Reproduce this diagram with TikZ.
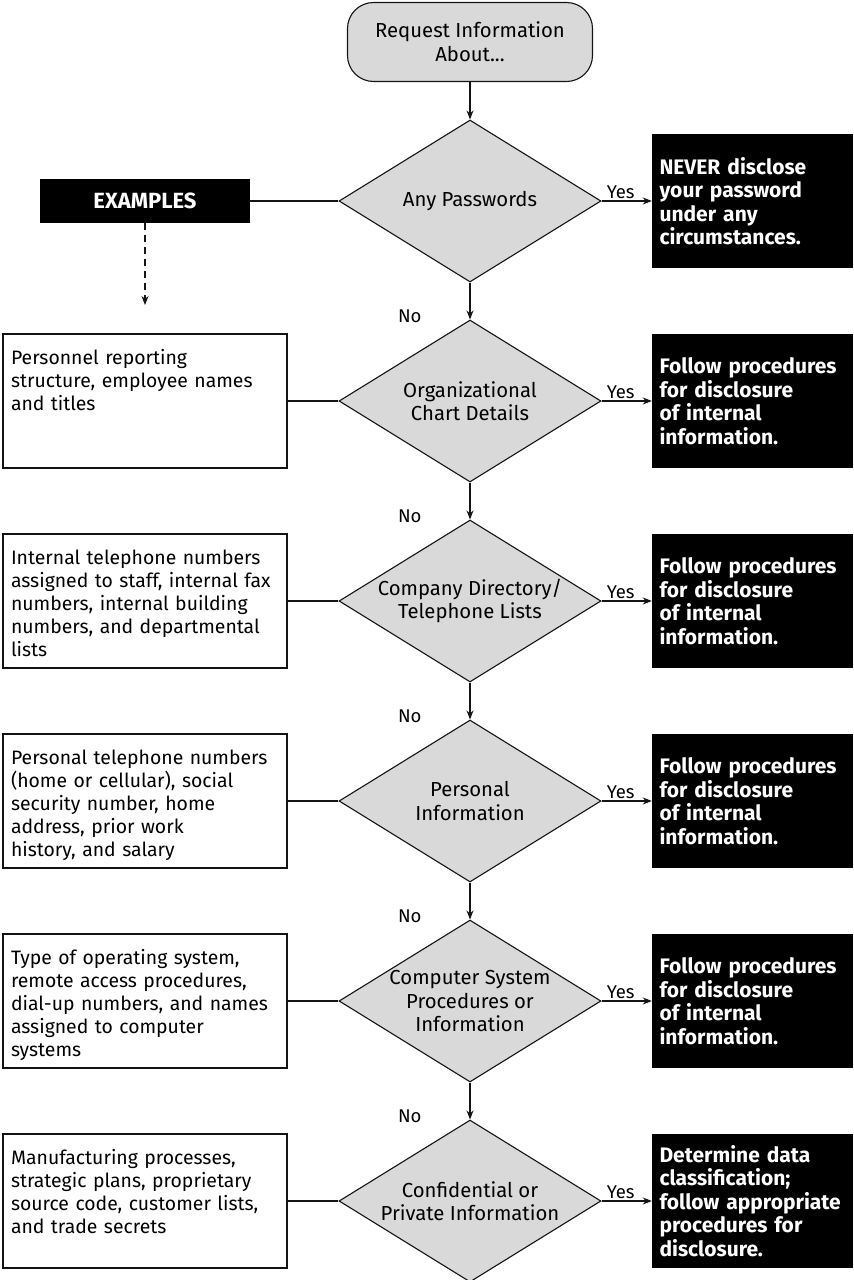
\documentclass[tikz,border=0pt]{standalone}
\usepackage{fontspec}
\setmainfont{Fira Sans}
\usepackage{tikz}
\usetikzlibrary{positioning,shapes.geometric,arrows.meta}
\definecolor{decisiongray}{RGB}{217,217,217}
\definecolor{inkblack}{RGB}{20,20,20}

\begin{document}
\begin{tikzpicture}[x=1pt, y=-1pt, startbox/.style={draw=inkblack, fill=decisiongray, rounded corners=26pt, line width=1.1pt, minimum width=245pt, minimum height=79pt, align=center, font=\fontsize{20.3}{24}\selectfont}, decision/.style={diamond, draw=inkblack, fill=decisiongray, line width=1.1pt, aspect=1.62, inner sep=0pt, minimum width=262pt, minimum height=162pt, align=center, font=\fontsize{20.3}{23.3}\selectfont}, actionbox/.style={fill=black, text=white, inner xsep=7.5pt, text width=186pt, minimum height=134pt, align=left, execute at begin node={\hyphenpenalty=10000}, font=\fontsize{21}{23.5}\selectfont\bfseries}, examplebox/.style={draw=inkblack, fill=white, line width=1.1pt, inner xsep=8pt, inner ysep=0pt, text width=268pt, text height=30pt, text depth=104pt, align=left, execute at begin node={\hyphenpenalty=10000}, font=\fontsize{19.4}{23}\selectfont}, headerbox/.style={fill=black, text=white, minimum width=210pt, minimum height=44pt, font=\fontsize{22}{24}\selectfont\bfseries}, arrow/.style={-{Stealth[length=9pt,width=7pt]}, draw=inkblack, line width=1.1pt}, link/.style={draw=inkblack, line width=1.1pt}, answer/.style={inner sep=0pt, font=\fontsize{18.5}{20}\selectfont}]
\useasboundingbox (0,0) rectangle (854,1280);
\clip (0,0) rectangle (854,1280);
\node[startbox] (start) at (470,42) {Request Information\\About...};
\node[decision] (q1) at (470,201) {Any Passwords};
\draw[arrow] (start) -- (q1);
\node[actionbox] (act1) at (752.5,201) {NEVER disclose\\your password\\under any\\circumstances.};
\draw[arrow] (q1) -- node[answer, pos=0.38, above=2pt] {Yes} (act1);
\node[headerbox] (examples) at (145,201) {EXAMPLES};
\draw[link] (examples) -- (q1);
\coordinate (examplesend) at (145,305);
\draw[arrow, dashed, dash pattern=on 7pt off 5pt] (examples) -- (examplesend);
% organizational chart
\node[decision] (q2) at (470,401) {Organizational\\Chart Details};
\draw[arrow] (q1) -- node[answer, pos=0.9, left=48pt] {No} (q2);
\node[actionbox] (act2) at (752.5,401) {Follow procedures\\for disclosure\\of internal\\information.};
\draw[arrow] (q2) -- node[answer, pos=0.38, above=2pt] {Yes} (act2);
\node[examplebox] (ex2) at (145,401) {Personnel reporting\\structure, employee names\\and titles};
\draw[link] (ex2) -- (q2);
% directory
\node[decision] (q3) at (470,601) {Company Directory/\\Telephone Lists};
\draw[arrow] (q2) -- node[answer, pos=0.9, left=48pt] {No} (q3);
\node[actionbox] (act3) at (752.5,601) {Follow procedures\\for disclosure\\of internal\\information.};
\draw[arrow] (q3) -- node[answer, pos=0.38, above=2pt] {Yes} (act3);
\node[examplebox] (ex3) at (145,601) {Internal telephone numbers\\assigned to staff, internal fax\\numbers, internal building\\numbers, and departmental\\lists};
\draw[link] (ex3) -- (q3);
% personal
\node[decision] (q4) at (470,801) {Personal\\Information};
\draw[arrow] (q3) -- node[answer, pos=0.9, left=48pt] {No} (q4);
\node[actionbox] (act4) at (752.5,801) {Follow procedures\\for disclosure\\of internal\\information.};
\draw[arrow] (q4) -- node[answer, pos=0.38, above=2pt] {Yes} (act4);
\node[examplebox] (ex4) at (145,801) {Personal telephone numbers\\(home or cellular), social\\security number, home\\address, prior work\\history, and salary};
\draw[link] (ex4) -- (q4);
% computer systems
\node[decision] (q5) at (470,1001) {Computer System\\Procedures or\\Information};
\draw[arrow] (q4) -- node[answer, pos=0.9, left=48pt] {No} (q5);
\node[actionbox] (act5) at (752.5,1001) {Follow procedures\\for disclosure\\of internal\\information.};
\draw[arrow] (q5) -- node[answer, pos=0.38, above=2pt] {Yes} (act5);
\node[examplebox] (ex5) at (145,1001) {Type of operating system,\\remote access procedures,\\dial-up numbers, and names\\assigned to computer\\systems};
\draw[link] (ex5) -- (q5);
% confidential
\node[decision] (q6) at (470,1201) {Confidential or\\Private Information};
\draw[arrow] (q5) -- node[answer, pos=0.9, left=48pt] {No} (q6);
\node[actionbox] (act6) at (752.5,1201) {Determine data\\classification;\\follow appropriate\\procedures for\\disclosure.};
\draw[arrow] (q6) -- node[answer, pos=0.38, above=2pt] {Yes} (act6);
\node[examplebox] (ex6) at (145,1201) {Manufacturing processes,\\strategic plans, proprietary\\source code, customer lists,\\and trade secrets};
\draw[link] (ex6) -- (q6);
\end{tikzpicture}
\end{document}
